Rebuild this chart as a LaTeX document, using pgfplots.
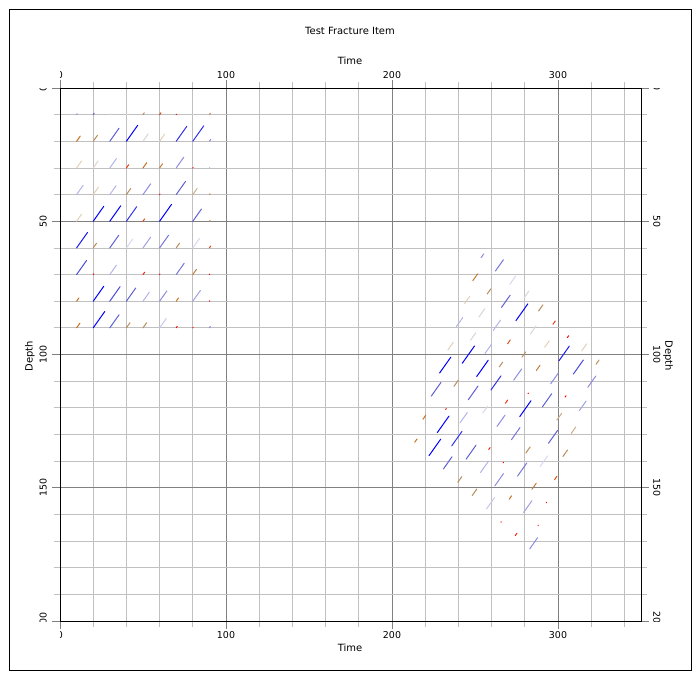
\documentclass[border=0pt]{standalone}
\usepackage{pgfplots}
\pgfplotsset{compat=1.18}
\usepackage{pgfplotstable}
\usepackage{fontspec}
\setmainfont{DejaVu Sans}
\usepackage{trimclip}

\definecolor{minorgrid}{RGB}{192,192,192}
\definecolor{majorgrid}{RGB}{128,128,128}
\newcommand{\lbl}{\fontsize{10}{12}\selectfont}
\newcommand{\tck}{\fontsize{9.5}{11}\selectfont}

\pgfplotsset{colormap={fracmap}{rgb255=(255,0,0) rgb255=(230,60,10) rgb255=(200,110,30) rgb255=(185,140,90) rgb255=(225,208,185) rgb255=(215,215,240) rgb255=(180,180,232) rgb255=(140,140,222) rgb255=(95,95,212) rgb255=(50,50,232) rgb255=(0,0,255)}}

\pgfplotstableread{
x y u v c
10 10 0.4 -0.35 7
20 10 0.6 -0.53 8
30 10 0.4 -0.35 5
40 10 0.2 -0.18 5
50 10 0.8 -0.70 3
60 10 0.8 -0.70 1
70 10 0.2 -0.18 0
80 10 0.2 -0.18 5
90 10 0.6 -0.53 3
10 20 2.2 -1.94 2
20 20 2.6 -2.29 3
30 20 5.6 -4.93 8
40 20 6.8 -5.98 10
50 20 3.2 -2.82 4.5
60 20 3.0 -2.64 4
70 20 6.4 -5.63 9
80 20 6.6 -5.81 9
90 20 0.8 -0.70 7
10 30 3.0 -2.64 4
20 30 3.0 -2.64 4.5
30 30 4.0 -3.52 6
40 30 1.4 -1.23 1
50 30 2.2 -1.94 2
60 30 1.8 -1.58 2.5
70 30 4.6 -4.05 7
80 30 0.2 -0.18 0
90 30 0.2 -0.18 6
10 40 4.0 -3.52 6
20 40 3.2 -2.82 4
30 40 3.8 -3.34 6
40 40 2.6 -2.29 3
50 40 4.6 -4.05 7
60 40 0.2 -0.18 0
70 40 5.6 -4.93 8
80 40 2.6 -2.29 3.5
90 40 0.4 -0.35 3
10 50 3.0 -2.64 4
20 50 6.4 -5.63 10
30 50 6.6 -5.81 10
40 50 6.2 -5.46 9
50 50 1.0 -0.88 1
60 50 7.2 -6.34 10
80 50 5.2 -4.58 8
90 50 0.4 -0.35 3
10 60 6.6 -5.81 9.5
20 60 2.0 -1.76 3
30 60 5.4 -4.75 8
40 60 3.8 -3.34 5
50 60 4.6 -4.05 6.5
60 60 5.4 -4.75 7.5
70 60 2.0 -1.76 3
80 60 4.0 -3.52 5
90 60 0.8 -0.70 1
10 70 6.0 -5.28 8.5
20 70 0.3 -0.26 0
30 70 4.0 -3.52 6
50 70 1.0 -0.88 0.5
60 70 0.2 -0.18 0
70 70 4.8 -4.22 7.5
80 70 2.2 -1.94 2.5
90 70 0.2 -0.18 0
10 80 1.4 -1.23 2
20 80 6.4 -5.63 10
30 80 6.2 -5.46 8.5
40 80 5.6 -4.93 8
50 80 3.8 -3.34 6
60 80 4.4 -3.87 7
70 80 1.4 -1.23 2
80 80 4.6 -4.05 6.5
90 80 0.2 -0.18 0
10 90 2.0 -1.76 2
20 90 7.0 -6.16 10
30 90 5.6 -4.93 8
40 90 2.2 -1.94 3
50 90 2.2 -1.94 3
60 90 4.0 -3.52 5.5
70 90 0.6 -0.53 0
80 90 0.2 -0.18 0
90 90 0.6 -0.53 7
}\groupA

\pgfplotstableread{
x y u v c
253.66 63.66 1.6 -1.41 7
262.32 68.66 4.8 -4.22 7.5
270.98 73.66 3.4 -2.99 5
279.64 78.66 2.8 -2.46 4.5
288.30 83.66 2.6 -2.29 3
296.96 88.66 1.4 -1.23 1
305.62 93.66 0.8 -0.70 0
314.28 98.66 3.0 -2.64 4
322.94 103.66 1.8 -1.58 3
248.66 72.32 3.0 -2.64 2.5
257.32 77.32 2.2 -1.94 3
265.98 82.32 5.2 -4.58 8
274.64 87.32 7.2 -6.34 10
283.30 92.32 3.4 -2.99 4.5
291.96 97.32 2.8 -2.46 4
300.62 102.32 6.2 -5.46 9.5
309.28 107.32 6.0 -5.28 8.5
317.94 112.32 4.8 -4.22 7
243.66 80.98 3.2 -2.82 4
252.32 85.98 3.6 -3.17 4.5
260.98 90.98 4.4 -3.87 6
269.64 95.98 1.6 -1.41 1.5
278.30 100.98 2.2 -1.94 3
286.96 105.98 2.2 -1.94 2.5
295.62 110.98 4.6 -4.05 7
304.28 115.98 0.6 -0.53 0
312.94 120.98 4.0 -3.52 6.5
238.66 89.64 4.0 -3.52 6
247.32 94.64 3.2 -2.82 4.5
255.98 99.64 4.0 -3.52 6
264.64 104.64 2.0 -1.76 3
273.30 109.64 4.8 -4.22 7
281.96 114.64 0.2 -0.18 0
290.62 119.64 5.6 -4.93 8
299.28 124.64 3.0 -2.64 3.5
307.94 129.64 2.8 -2.46 3.5
233.66 98.30 3.2 -2.82 4
242.32 103.30 7.4 -6.51 10
250.98 108.30 7.0 -6.16 10
259.64 113.30 6.0 -5.28 9
268.30 118.30 1.4 -1.23 1
276.96 123.30 6.8 -5.98 10
294.28 133.30 5.4 -4.75 8
302.94 138.30 2.8 -2.46 3
228.66 106.96 6.8 -5.98 10
237.32 111.96 2.6 -2.29 3
245.98 116.96 5.8 -5.10 8
254.64 121.96 2.8 -2.46 5
263.30 126.96 4.8 -4.22 7
271.96 131.96 5.2 -4.58 7.5
280.62 136.96 2.6 -2.29 3
289.28 141.96 4.4 -3.87 5
297.94 146.96 1.4 -1.23 1.5
223.66 115.62 5.8 -5.10 8
232.32 120.62 0.4 -0.35 0
240.98 125.62 4.4 -3.87 6
258.30 135.62 0.8 -0.70 0.5
266.96 140.62 0.2 -0.18 0
275.62 145.62 5.6 -4.93 7.5
284.28 150.62 2.6 -2.29 2.5
292.94 155.62 0.2 -0.18 0
218.66 124.28 1.6 -1.41 2
227.32 129.28 7.0 -6.16 10
235.98 134.28 6.2 -5.46 9
244.64 139.28 6.0 -5.28 8
253.30 144.28 4.8 -4.22 6
261.96 149.28 5.2 -4.58 7
270.62 154.28 1.4 -1.23 2
279.28 159.28 5.0 -4.40 6.5
287.94 164.28 0.2 -0.18 0
213.66 132.94 1.4 -1.23 2
222.32 137.94 7.0 -6.16 10
230.98 142.94 5.2 -4.58 8
239.64 147.94 2.4 -2.11 3
248.30 152.94 2.8 -2.46 3
256.96 157.94 4.8 -4.22 5.5
265.62 162.94 0.2 -0.18 0
274.28 167.94 1.0 -0.88 0.5
282.94 172.94 4.8 -4.22 7
}\groupB

\begin{document}
\begin{tikzpicture}
\useasboundingbox (0,0) rectangle (700bp,680bp);
\draw[black, line width=1bp] (9.5bp,9bp) rectangle (691bp,670.5bp);

\begin{axis}[
  at={(60bp,59bp)}, anchor=south west,
  scale only axis, width=581bp, height=533bp,
  xmin=0, xmax=350, ymin=0, ymax=200, y dir=reverse,
  axis line style={black, line width=1bp},
  xtick={0,100,200,300},
  minor xtick={20,40,60,80,120,140,160,180,220,240,260,280,320,340},
  ytick={0,50,100,150,200},
  minor ytick={10,20,30,40,60,70,80,90,110,120,130,140,160,170,180,190},
  grid=both,
  major grid style={majorgrid, line width=0.8bp},
  minor grid style={minorgrid, line width=0.8bp},
  tick align=outside, tick pos=both,
  major tick length=8bp, minor tick length=6bp,
  major tick style={majorgrid, line width=0.8bp},
  minor tick style={minorgrid, line width=0.8bp},
  xticklabels={\makebox[0pt][l]{\clipbox{{.5\width} 0pt 0pt 0pt}{0}},100,200,300},
  yticklabels={\makebox[0pt][r]{\clipbox{0pt 0pt {.5\width} 0pt}{0}},50,100,150,\makebox[0pt][l]{\clipbox{{.5\width} 0pt 0pt 0pt}{200}}},
  xticklabel style={font=\tck, inner sep=0pt},
  yticklabel style={font=\tck, inner sep=0pt, rotate=90, anchor=south},
  xticklabel shift=2bp, yticklabel shift=5bp,
  point meta min=0, point meta max=10,
  colormap name=fracmap,
]
\addplot[quiver={u=\thisrow{u}, v=\thisrow{v}, colored=mapped color}, point meta=\thisrow{c}, line width=1bp, line cap=round] table[x=x, y=y] {\groupA};
\addplot[quiver={u=\thisrow{u}, v=\thisrow{v}, colored=mapped color}, point meta=\thisrow{c}, line width=1bp, line cap=round] table[x=x, y=y] {\groupB};
\end{axis}

\begin{axis}[
  at={(60bp,59bp)}, anchor=south west,
  scale only axis, width=581bp, height=533bp,
  xmin=0, xmax=350, ymin=0, ymax=200, y dir=reverse,
  axis line style={draw=none}, tick style={draw=none},
  xtick={0,100,200,300}, ytick={0,50,100,150,200},
  xticklabel pos=upper, yticklabel pos=right,
  xticklabels={\makebox[0pt][l]{\clipbox{{.5\width} 0pt 0pt 0pt}{0}},100,200,300},
  yticklabels={\makebox[0pt][l]{\clipbox{{.5\width} 0pt 0pt 0pt}{0}},50,100,150,\makebox[0pt][r]{\clipbox{0pt 0pt {.5\width} 0pt}{200}}},
  xticklabel style={font=\tck, inner sep=0pt},
  yticklabel style={font=\tck, inner sep=0pt, rotate=-90, anchor=south},
  xticklabel shift=9bp, yticklabel shift=12bp,
]
\end{axis}

\node[font=\lbl] at (350bp,649bp) {Test Fracture Item};
\node[font=\lbl] at (350bp,619bp) {Time};
\node[font=\lbl] at (350bp,32bp) {Time};
\node[font=\lbl, rotate=90] at (30bp,324bp) {Depth};
\node[font=\lbl, rotate=-90] at (668bp,324bp) {Depth};
\end{tikzpicture}
\end{document}
